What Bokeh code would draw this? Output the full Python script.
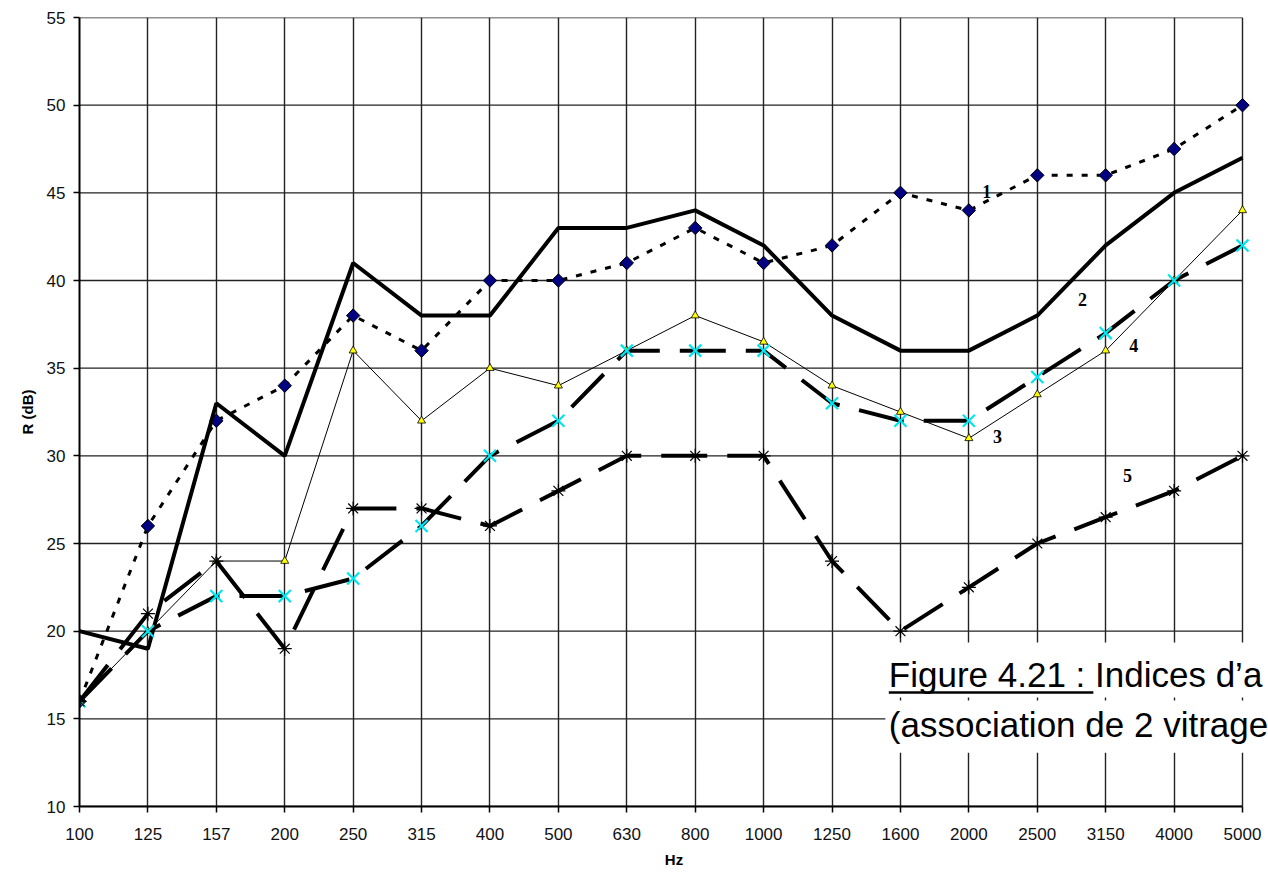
from bokeh.plotting import figure
from bokeh.models import Range1d, FixedTicker, Label
from bokeh.embed import file_html
from bokeh.resources import INLINE

# Third-octave band centre frequencies (Hz)
freqs = ["100", "125", "157", "200", "250", "315", "400", "500", "630",
         "800", "1000", "1250", "1600", "2000", "2500", "3150", "4000", "5000"]

# Sound reduction index R (dB) for the five configurations
r1 = [16, 26, 32, 34, 38, 36, 40, 40, 41, 43, 41, 42, 45, 44, 46, 46, 47.5, 50]
r2 = [20, 19, 33, 30, 41, 38, 38, 43, 43, 44, 42, 38, 36, 36, 38, 42, 45, 47]
r3 = [16, 20, 24, 24, 36, 32, 35, 34, 36, 38, 36.5, 34, 32.5, 31, 33.5, 36, 40, 44]
r4 = [16, 20, 22, 22, 23, 26, 30, 32, 36, 36, 36, 33, 32, 32, 34.5, 37, 40, 42]
r5 = [16, 21, 24, 19, 27, 27, 26, 28, 30, 30, 30, 24, 20, 22.5, 25, 26.5, 28, 30]

y_ticks = [10, 15, 20, 25, 30, 35, 40, 45, 50, 55]

x = list(range(len(freqs)))
x_last = len(freqs) - 1

FONT = "Liberation Sans"

W, H = 1268, 881
LEFT, TOP, BOTTOM = 79, 17, 75
GRID_RIGHT = 1242          # pixel column of the last band
# the frame runs to the page edge so the caption can overhang the last band
x_end = x_last * (W - LEFT) / (GRID_RIGHT - LEFT)

p = figure(width=W, height=H, output_backend="svg", toolbar_location=None,
           title=None,
           x_range=Range1d(0, x_end), y_range=Range1d(10, 55),
           min_border_left=LEFT, min_border_right=0,
           min_border_top=TOP, min_border_bottom=BOTTOM)

p.background_fill_color = "white"
p.border_fill_color = "white"
p.outline_line_color = None

# axes
p.xaxis.ticker = FixedTicker(ticks=x)
p.xaxis.major_label_overrides = {i: f for i, f in enumerate(freqs)}
p.xaxis.bounds = (0, x_last)
p.yaxis.ticker = FixedTicker(ticks=y_ticks)
for ax in (p.xaxis, p.yaxis):
    ax.axis_line_color = "black"
    ax.axis_line_width = 2
    ax.major_tick_line_color = "black"
    ax.major_tick_line_width = 1.5
    ax.major_tick_out = 6
    ax.major_tick_in = 0
    ax.minor_tick_line_color = None
    ax.major_label_text_font = FONT
    ax.major_label_text_font_size = "17px"
    ax.major_label_text_color = "#111111"
    ax.axis_label_text_font = FONT
    ax.axis_label_text_font_style = "bold"
    ax.axis_label_text_font_size = "15px"
    ax.axis_label_text_color = "black"

p.xaxis.axis_label = "Hz"
p.xaxis.major_label_standoff = 15
p.xaxis.axis_label_standoff = 8
p.yaxis.axis_label = "R (dB)"
p.yaxis.major_label_standoff = 8
p.yaxis.axis_label_standoff = 8

# vertical grid from the axis ticker, horizontal grid stopped at the last band
p.xgrid.ticker = FixedTicker(ticks=x)
p.xgrid.grid_line_color = "#222222"
p.xgrid.grid_line_width = 1.4
p.ygrid.grid_line_color = None
p.segment(x0=[0] * len(y_ticks), y0=y_ticks, x1=[x_last] * len(y_ticks), y1=y_ticks,
          line_color="#222222", line_width=1.4)

# series 1: dotted with navy diamonds
p.line(x, r1, line_color="black", line_width=3, line_dash="6 9")
p.scatter(x, r1, marker="square", angle=0.785, size=9.5,
          fill_color="#000080", line_color="black", line_width=1)

# series 2: thick solid line
p.line(x, r2, line_color="black", line_width=4)

# series 3: thin line with yellow triangles
p.line(x, r3, line_color="black", line_width=1)
p.scatter(x, r3, marker="triangle", size=8,
          fill_color="#FFFF00", line_color="black", line_width=0.8)

# series 4: long dashes with cyan crosses
p.line(x, r4, line_color="black", line_width=4, line_dash="46 20")
p.scatter(x, r4, marker="x", size=17, line_color="#00E5EE", line_width=2.2)

# series 5: long dashes with asterisks
p.line(x, r5, line_color="black", line_width=4, line_dash="46 20")
p.scatter(x, r5, marker="asterisk", size=14, line_color="black", line_width=1.2)

# curve numbers
for txt, lx, ly in [("1", 13.26, 45.1), ("2", 14.66, 38.9), ("3", 13.42, 31.1),
                    ("4", 15.41, 36.3), ("5", 15.32, 28.9)]:
    p.add_layout(Label(x=lx, y=ly, text=txt, text_font="Liberation Serif",
                       text_font_style="bold", text_font_size="18px",
                       text_color="black", text_align="center",
                       text_baseline="middle"))

# caption overlaid on the lower right, on white bands
cap_x = 11.83
p.quad(left=[11.78, 11.78], right=[x_end, x_end], top=[19.35, 16.04],
       bottom=[16.21, 13.07], fill_color="white", line_color=None)
p.add_layout(Label(x=cap_x, y=17.55, text="Figure 4.21 : Indices d\u2019a",
                   text_font=FONT, text_font_size="35px", text_color="black",
                   text_baseline="alphabetic", text_align="left"))
p.add_layout(Label(x=cap_x, y=14.7, text="(association de 2 vitrage",
                   text_font=FONT, text_font_size="35px", text_color="black",
                   text_baseline="alphabetic", text_align="left"))
p.segment(x0=[cap_x], y0=[16.5], x1=[14.82], y1=[16.5],
          line_color="black", line_width=2.5, level="overlay")

open("out.html", "w").write(file_html(p, INLINE))
